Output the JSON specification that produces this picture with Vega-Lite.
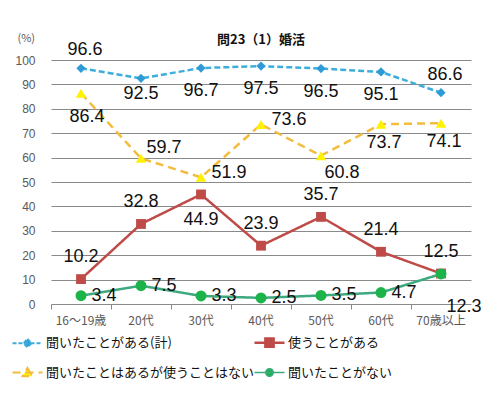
{
  "$schema": "https://vega.github.io/schema/vega-lite/v6.json",
  "autosize": {"type": "none"},
  "padding": {"left": 51, "top": 60, "right": 27, "bottom": 91},
  "width": 420,
  "height": 244,
  "background": "white",
  "title": {"text": "問23（1）婚活", "fontSize": 13, "fontWeight": "bold", "font": "Noto Sans CJK JP", "color": "#111111", "anchor": "middle", "baseline": "bottom", "offset": 12, "dy": 40},
  "data": {"values": [
    {"s": "聞いたことがある(計)", "age": "16～19歳", "v": 96.6},
    {"s": "聞いたことがある(計)", "age": "20代", "v": 92.5},
    {"s": "聞いたことがある(計)", "age": "30代", "v": 96.7},
    {"s": "聞いたことがある(計)", "age": "40代", "v": 97.5},
    {"s": "聞いたことがある(計)", "age": "50代", "v": 96.5},
    {"s": "聞いたことがある(計)", "age": "60代", "v": 95.1},
    {"s": "聞いたことがある(計)", "age": "70歳以上", "v": 86.6},
    {"s": "使うことがある", "age": "16～19歳", "v": 10.2},
    {"s": "使うことがある", "age": "20代", "v": 32.8},
    {"s": "使うことがある", "age": "30代", "v": 44.9},
    {"s": "使うことがある", "age": "40代", "v": 23.9},
    {"s": "使うことがある", "age": "50代", "v": 35.7},
    {"s": "使うことがある", "age": "60代", "v": 21.4},
    {"s": "使うことがある", "age": "70歳以上", "v": 12.5},
    {"s": "聞いたことはあるが使うことはない", "age": "16～19歳", "v": 86.4},
    {"s": "聞いたことはあるが使うことはない", "age": "20代", "v": 59.7},
    {"s": "聞いたことはあるが使うことはない", "age": "30代", "v": 51.9},
    {"s": "聞いたことはあるが使うことはない", "age": "40代", "v": 73.6},
    {"s": "聞いたことはあるが使うことはない", "age": "50代", "v": 60.8},
    {"s": "聞いたことはあるが使うことはない", "age": "60代", "v": 73.7},
    {"s": "聞いたことはあるが使うことはない", "age": "70歳以上", "v": 74.1},
    {"s": "聞いたことがない", "age": "16～19歳", "v": 3.4},
    {"s": "聞いたことがない", "age": "20代", "v": 7.5},
    {"s": "聞いたことがない", "age": "30代", "v": 3.3},
    {"s": "聞いたことがない", "age": "40代", "v": 2.5},
    {"s": "聞いたことがない", "age": "50代", "v": 3.5},
    {"s": "聞いたことがない", "age": "60代", "v": 4.7},
    {"s": "聞いたことがない", "age": "70歳以上", "v": 12.3}
  ]},
  "encoding": {
    "x": {"field": "age", "type": "nominal",
      "scale": {"type": "band", "domain": ["16～19歳", "20代", "30代", "40代", "50代", "60代", "70歳以上"], "paddingInner": 0, "paddingOuter": 0},
      "axis": {"title": null, "labelAngle": 0, "labelFont": "Noto Sans CJK JP", "labelFontSize": 12, "labelColor": "#595959", "domain": false, "grid": false, "ticks": true, "tickSize": 5, "tickColor": "#868686", "bandPosition": 0, "labelPadding": 6}},
    "y": {"field": "v", "type": "quantitative",
      "scale": {"domain": [0, 100], "nice": false, "zero": true},
      "axis": {"title": "(%)", "titleAngle": 0, "titleAlign": "left", "titleBaseline": "middle", "titleX": -34, "titleY": -22, "titleFont": "Noto Sans CJK JP", "titleFontSize": 11, "titleFontWeight": "normal", "titleColor": "#595959",
        "values": [0, 10, 20, 30, 40, 50, 60, 70, 80, 90, 100], "labelFont": "Liberation Sans", "labelFontSize": 12, "labelColor": "#595959", "labelPadding": 16, "domain": false, "ticks": false, "grid": true, "gridColor": "#8a8a8a", "gridWidth": 1}}
  },
  "layer": [
    {"mark": {"type": "line"},
     "encoding": {
       "stroke": {"field": "s", "type": "nominal",
         "sort": ["聞いたことがある(計)", "使うことがある", "聞いたことはあるが使うことはない", "聞いたことがない"],
         "scale": {"range": ["#3DAEDC", "#BE4B48", "#F2BC3C", "#3EA87E"]},
         "legend": {"title": null, "orient": "none", "legendX": -30, "legendY": 276, "direction": "horizontal", "columns": 2, "columnPadding": -6, "rowPadding": 12, "padding": 0, "symbolSize": 225, "labelOffset": 12, "labelFont": "Noto Sans CJK JP", "labelFontSize": 13, "labelColor": "#111111", "labelLimit": 300,
           "encode": {"symbols": {"update": {
             "shape": {"signal": "datum.value == '聞いたことがある(計)' ? 'M-2,0H2M0,-0.55L0.55,0L0,0.55L-0.55,0Z' : datum.value == '使うことがある' ? 'M-2,0H2M-0.55,-0.55H0.55V0.55H-0.55Z' : datum.value == '聞いたことはあるが使うことはない' ? 'M-2,0H2M0,-0.6L0.65,0.5H-0.65Z' : 'M-2,0H2M0.5,0A0.5,0.5,0,1,1,-0.5,0A0.5,0.5,0,1,1,0.5,0Z'"},
             "fill": {"signal": "datum.value == '聞いたことがある(計)' ? '#2E9BD6' : datum.value == '使うことがある' ? '#BE4B48' : datum.value == '聞いたことはあるが使うことはない' ? '#FFF200' : '#1DB34B'"},
             "strokeDash": {"signal": "datum.value == '聞いたことがある(計)' ? [4,2] : datum.value == '聞いたことはあるが使うことはない' ? [8,5] : [1,0]"},
             "strokeWidth": {"signal": "datum.value == '使うことがある' ? 2.5 : datum.value == '聞いたことがない' ? 1.5 : 2"},
             "size": {"value": 225},
             "opacity": {"value": 1}
           }}}}},
       "strokeDash": {"field": "s", "type": "nominal",
         "scale": {"domain": ["聞いたことがある(計)", "使うことがある", "聞いたことはあるが使うことはない", "聞いたことがない"], "range": [[6, 3], [1, 0], [8, 5], [1, 0]]}, "legend": null},
       "strokeWidth": {"field": "s", "type": "nominal",
         "scale": {"domain": ["聞いたことがある(計)", "使うことがある", "聞いたことはあるが使うことはない", "聞いたことがない"], "range": [2.5, 2.5, 2.5, 1.5]}, "legend": null}
     }},
    {"mark": {"type": "point", "filled": true, "opacity": 1},
     "encoding": {
       "fill": {"field": "s", "type": "nominal",
         "scale": {"domain": ["聞いたことがある(計)", "使うことがある", "聞いたことはあるが使うことはない", "聞いたことがない"], "range": ["#2E9BD6", "#BE4B48", "#FFF200", "#1DB34B"]}, "legend": null},
       "shape": {"field": "s", "type": "nominal",
         "scale": {"domain": ["聞いたことがある(計)", "使うことがある", "聞いたことはあるが使うことはない", "聞いたことがない"], "range": ["diamond", "square", "triangle-up", "circle"]}, "legend": null},
       "size": {"field": "s", "type": "nominal",
         "scale": {"domain": ["聞いたことがある(計)", "使うことがある", "聞いたことはあるが使うことはない", "聞いたことがない"], "range": [85, 120, 130, 85]}, "legend": null}
     }},
    {"transform": [{"filter": "datum.s == '聞いたことがある(計)' && indexof(['16～19歳', '70歳以上'], datum.age) >= 0"}],
     "mark": {"type": "text", "font": "Liberation Sans", "fontSize": 18, "color": "#111111", "dx": 4, "dy": -18},
     "encoding": {"text": {"field": "v", "type": "quantitative", "format": ".1f"}}},
    {"transform": [{"filter": "datum.s == '聞いたことがある(計)' && indexof(['30代', '40代', '50代', '60代'], datum.age) >= 0"}],
     "mark": {"type": "text", "font": "Liberation Sans", "fontSize": 18, "color": "#111111", "dy": 23},
     "encoding": {"text": {"field": "v", "type": "quantitative", "format": ".1f"}}},
    {"transform": [{"filter": "datum.s == '聞いたことがある(計)' && datum.age == '20代'"}],
     "mark": {"type": "text", "font": "Liberation Sans", "fontSize": 18, "color": "#111111", "dy": 16},
     "encoding": {"text": {"field": "v", "type": "quantitative", "format": ".1f"}}},
    {"transform": [{"filter": "datum.s == '使うことがある' && datum.age != '30代'"}],
     "mark": {"type": "text", "font": "Liberation Sans", "fontSize": 18, "color": "#111111", "dy": -22},
     "encoding": {"text": {"field": "v", "type": "quantitative", "format": ".1f"}}},
    {"transform": [{"filter": "datum.s == '使うことがある' && datum.age == '30代'"}],
     "mark": {"type": "text", "font": "Liberation Sans", "fontSize": 18, "color": "#111111", "dy": 26},
     "encoding": {"text": {"field": "v", "type": "quantitative", "format": ".1f"}}},
    {"transform": [{"filter": "datum.s == '聞いたことはあるが使うことはない' && datum.age == '16～19歳'"}],
     "mark": {"type": "text", "font": "Liberation Sans", "fontSize": 18, "color": "#111111", "dx": 6, "dy": 24},
     "encoding": {"text": {"field": "v", "type": "quantitative", "format": ".1f"}}},
    {"transform": [{"filter": "datum.s == '聞いたことはあるが使うことはない' && datum.age == '20代'"}],
     "mark": {"type": "text", "font": "Liberation Sans", "fontSize": 18, "color": "#111111", "dx": 23, "dy": -10},
     "encoding": {"text": {"field": "v", "type": "quantitative", "format": ".1f"}}},
    {"transform": [{"filter": "datum.s == '聞いたことはあるが使うことはない' && indexof(['30代', '40代'], datum.age) >= 0"}],
     "mark": {"type": "text", "font": "Liberation Sans", "fontSize": 18, "color": "#111111", "dx": 28, "dy": -4},
     "encoding": {"text": {"field": "v", "type": "quantitative", "format": ".1f"}}},
    {"transform": [{"filter": "datum.s == '聞いたことはあるが使うことはない' && datum.age == '50代'"}],
     "mark": {"type": "text", "font": "Liberation Sans", "fontSize": 18, "color": "#111111", "dx": 21, "dy": 17},
     "encoding": {"text": {"field": "v", "type": "quantitative", "format": ".1f"}}},
    {"transform": [{"filter": "datum.s == '聞いたことはあるが使うことはない' && indexof(['60代', '70歳以上'], datum.age) >= 0"}],
     "mark": {"type": "text", "font": "Liberation Sans", "fontSize": 18, "color": "#111111", "dx": 3, "dy": 19},
     "encoding": {"text": {"field": "v", "type": "quantitative", "format": ".1f"}}},
    {"transform": [{"filter": "datum.s == '聞いたことがない' && datum.age != '70歳以上'"}],
     "mark": {"type": "text", "font": "Liberation Sans", "fontSize": 18, "color": "#111111", "dx": 23, "dy": 0},
     "encoding": {"text": {"field": "v", "type": "quantitative", "format": ".1f"}}},
    {"transform": [{"filter": "datum.s == '聞いたことがない' && datum.age == '70歳以上'"}],
     "mark": {"type": "text", "font": "Liberation Sans", "fontSize": 18, "color": "#111111", "dx": 23, "dy": 33},
     "encoding": {"text": {"field": "v", "type": "quantitative", "format": ".1f"}}}
  ],
  "config": {"view": {"stroke": null}, "font": "Noto Sans CJK JP"}
}
